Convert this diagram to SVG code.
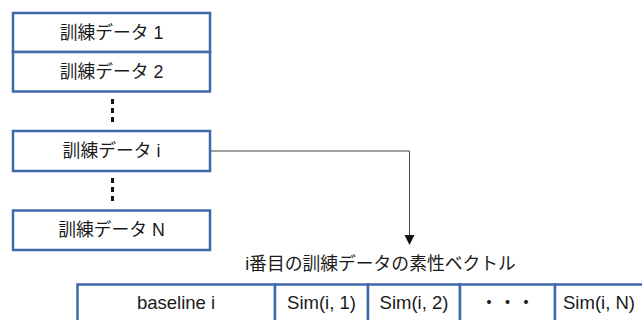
<svg xmlns="http://www.w3.org/2000/svg" width="642" height="320" viewBox="0 0 642 320">
<style>
.box{fill:#fff;stroke:#3e6aab;stroke-width:2.5}
.t{font-family:"Liberation Sans","Noto Sans CJK JP",sans-serif;font-size:17.8px;fill:#1a1a1a;text-anchor:middle}
.v{font-size:18.5px}
.dots{stroke:#111;stroke-width:3;stroke-dasharray:5 4}
.conn{fill:none;stroke:#444;stroke-width:1}
</style>
<g id="data1"><rect class="box" x="13" y="13" width="197" height="39"/><text class="t" x="111.5" y="39">訓練データ 1</text></g>
<g id="data2"><rect class="box" x="13" y="52" width="197" height="39.5"/><text class="t" x="111.5" y="78">訓練データ 2</text></g>
<g id="datai"><rect class="box" x="13" y="131" width="197" height="40"/><text class="t" x="111.5" y="157">訓練データ i</text></g>
<g id="dataN"><rect class="box" x="13" y="210.5" width="197" height="39.5"/><text class="t" x="111.5" y="236">訓練データ N</text></g>
<g id="ellipsis1"><line class="dots" x1="112.5" y1="99" x2="112.5" y2="122"/></g>
<g id="ellipsis2"><line class="dots" x1="112.5" y1="178" x2="112.5" y2="201"/></g>
<g id="connectors">
<path class="conn" d="M211,151 H409.5 V235"/>
<path d="M404.5,235 L414.5,235 L409.5,245 Z" fill="#111"/>
</g>
<g id="title"><text class="t" x="380.5" y="270">i番目の訓練データの素性ベクトル</text></g>
<g id="vector">
<rect class="box" x="77.5" y="284.5" width="197.5" height="45"/>
<rect class="box" x="275" y="284.5" width="93" height="45"/>
<rect class="box" x="368" y="284.5" width="92" height="45"/>
<rect class="box" x="460" y="284.5" width="95" height="45"/>
<rect class="box" x="555" y="284.5" width="100" height="45"/>
<text class="t v" x="176" y="309">baseline i</text>
<text class="t v" x="321.5" y="309">Sim(i, 1)</text>
<text class="t v" x="414" y="309">Sim(i, 2)</text>
<text class="t v" x="507.5" y="309">・・・</text>
<text class="t v" x="599" y="309">Sim(i, N)</text>
</g>
</svg>
